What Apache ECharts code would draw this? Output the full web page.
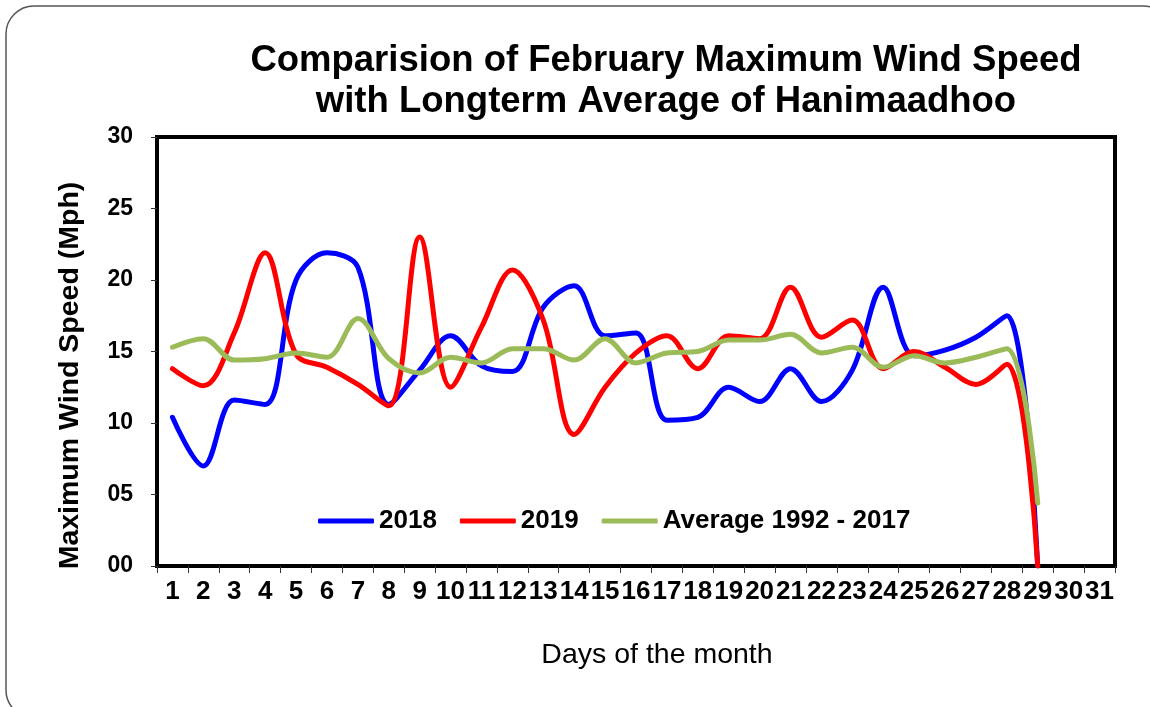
<!DOCTYPE html>
<html>
<head>
<meta charset="utf-8">
<script src="https://cdn.jsdelivr.net/npm/echarts@6/dist/echarts.min.js"></script>
<style>
html,body{margin:0;padding:0;background:#fff;}
#chart{width:1150px;height:707px;}
</style>
</head>
<body>
<div id="chart"></div>
<script>
const days = ['1','2','3','4','5','6','7','8','9','10','11','12','13','14','15','16','17','18','19','20','21','22','23','24','25','26','27','28','29','30','31'];
const s2018 = [10.4,7.0,11.6,11.3,20.0,21.9,20.9,11.3,13.7,16.1,14.0,13.6,18.1,19.6,16.1,16.3,10.2,10.4,12.5,11.5,13.8,11.5,13.7,19.5,14.7,15.1,16.0,17.5,0,null,null];
const s2019 = [13.8,12.6,16.3,21.9,14.8,13.9,12.7,11.2,23.0,12.5,16.7,20.7,17.2,9.2,12.5,14.9,16.1,13.8,16.1,15.9,19.5,16.0,17.2,13.8,15.0,13.9,12.7,14.1,0,null,null];
const sAvg = [15.3,15.9,14.4,14.5,14.9,14.6,17.3,14.5,13.5,14.6,14.2,15.2,15.2,14.4,15.9,14.2,14.9,15.0,15.8,15.8,16.2,14.9,15.3,13.9,14.7,14.2,14.6,15.2,4.4,null,null];
const yTickLabels = ['00','05','10','15','20','25','30'];
const seriesNames = ['2018','2019','Average 1992 - 2017'];

const FONT = '"Liberation Sans", Arial, sans-serif';
const chart = echarts.init(document.getElementById('chart'), null, {renderer:'canvas'});
chart.setOption({
  backgroundColor:'#fff',
  animation:false,
  title:{
    text:'Comparision of February Maximum Wind Speed\nwith Longterm Average of Hanimaadhoo',
    left:661, top:35, textAlign:'center',
    textStyle:{fontFamily:FONT, fontWeight:'bold', fontSize:36.5, lineHeight:41, color:'#000'}
  },
  graphic:[{
    type:'rect', silent:true, z:-1,
    shape:{x:6, y:6, width:1165, height:712, r:28},
    style:{fill:'none', stroke:'#555', lineWidth:1.5}
  }],
  legend:{
    left:313, top:503,
    icon:'roundRect',
    itemWidth:56, itemHeight:5, itemGap:23,
    textStyle:{fontFamily:FONT, fontWeight:'bold', fontSize:26, color:'#000'},
    data:seriesNames
  },
  grid:{left:157, right:35, top:137, bottom:141, show:true, borderColor:'#000', borderWidth:4, containLabel:false},
  xAxis:{
    type:'category', data:days, boundaryGap:true,
    name:'Days of the month', nameLocation:'middle', nameGap:75,
    nameTextStyle:{fontFamily:FONT, fontSize:28.5, color:'#000', padding:[0,0,0,42]},
    axisLine:{show:true, lineStyle:{color:'#000', width:4}},
    axisTick:{show:true, length:7, inside:false, lineStyle:{color:'#333', width:1}},
    axisLabel:{interval:0, margin:13, fontFamily:FONT, fontWeight:'bold', fontSize:26, color:'#000'},
    splitLine:{show:false}
  },
  yAxis:{
    type:'value', min:0, max:30, interval:5,
    name:'Maximum Wind Speed (Mph)', nameLocation:'middle', nameGap:72, nameRotate:90,
    nameTextStyle:{fontFamily:FONT, fontWeight:'bold', fontSize:28.5, color:'#000', padding:[0,48,0,0]},
    axisLine:{show:true, lineStyle:{color:'#000', width:4}},
    axisTick:{show:true, length:6, lineStyle:{color:'#333', width:1}},
    axisLabel:{margin:24, fontFamily:FONT, fontWeight:'bold', fontSize:23, color:'#000',
      formatter:function(v){ return yTickLabels[Math.round(v/5)]; }},
    splitLine:{show:false}
  },
  series:[
    {name:seriesNames[0], type:'line', data:s2018, smooth:0.35, symbol:'none', connectNulls:false,
     lineStyle:{color:'#0000FF', width:5, cap:'round'}, itemStyle:{color:'#0000FF'}},
    {name:seriesNames[1], type:'line', data:s2019, smooth:0.35, symbol:'none',
     lineStyle:{color:'#FF0000', width:5, cap:'round'}, itemStyle:{color:'#FF0000'}},
    {name:seriesNames[2], type:'line', data:sAvg, smooth:0.35, symbol:'none',
     lineStyle:{color:'#9BBB59', width:5, cap:'round'}, itemStyle:{color:'#9BBB59'}}
  ]
});
</script>
</body>
</html>
